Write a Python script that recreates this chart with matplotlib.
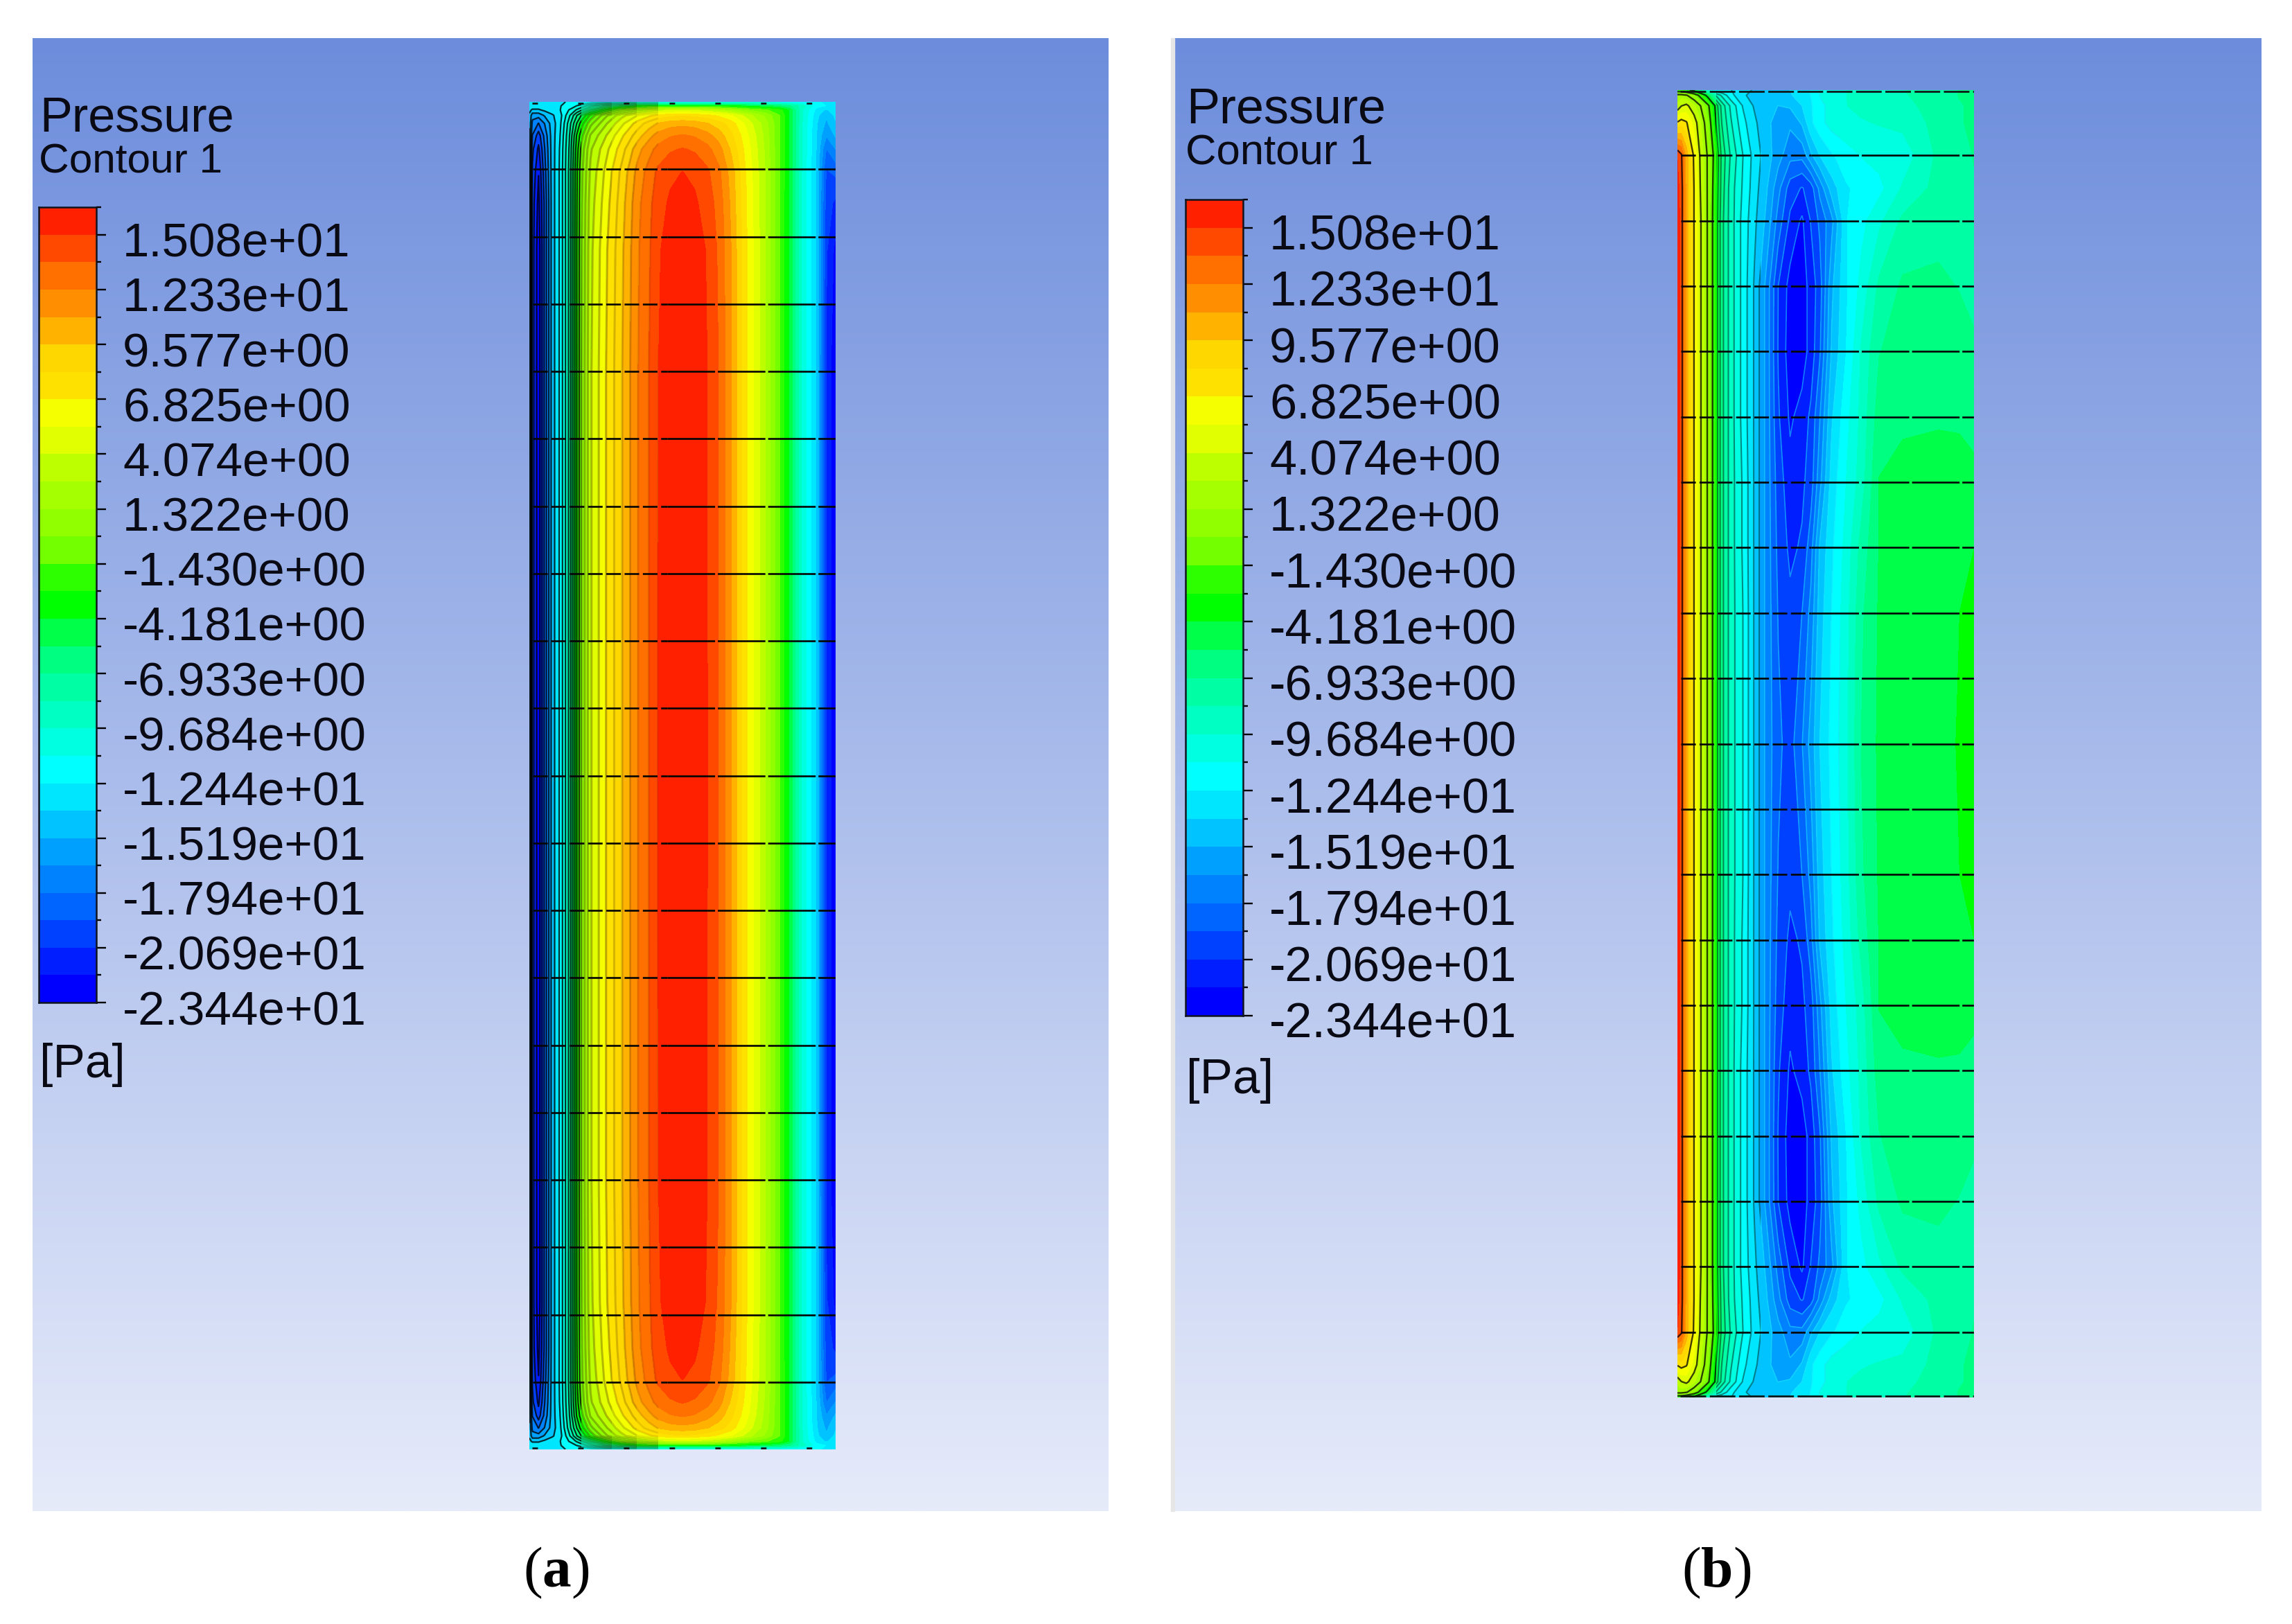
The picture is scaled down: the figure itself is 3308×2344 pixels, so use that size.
"""
Two CFD pressure contour panels (a) and (b) with their rainbow legends.
Field values are read off the picture at a set of stations.
"""
import numpy as np
import matplotlib
matplotlib.use("Agg")
import matplotlib.pyplot as plt
from matplotlib.colors import ListedColormap, BoundaryNorm
from matplotlib.patches import Rectangle
from matplotlib.transforms import ScaledTranslation

plt.rcParams["font.family"] = ["Liberation Sans", "DejaVu Sans"]
plt.rcParams["mathtext.fontset"] = "custom"
plt.rcParams["mathtext.rm"] = "Liberation Serif"
plt.rcParams["mathtext.bf"] = "Liberation Serif:bold"

W, H = 3308, 2344

# legend
levels = [-23.44, -22.06, -20.69, -19.31, -17.94, -16.56, -15.19, -13.81, -12.44, -11.06,
          -9.684, -8.31, -6.933, -5.56, -4.181, -2.81, -1.43, -0.05, 1.322, 2.70,
          4.074, 5.45, 6.825, 8.20, 9.577, 10.95, 12.33, 13.70, 15.08, 16.46]
label_values = [15.08, 12.33, 9.577, 6.825, 4.074, 1.322, -1.43, -4.181, -6.933,
                -9.684, -12.44, -15.19, -17.94, -20.69, -23.44]
tick_labels = ["1.508e+01", "1.233e+01", "9.577e+00", "6.825e+00", "4.074e+00",
               "1.322e+00", "-1.430e+00", "-4.181e+00", "-6.933e+00", "-9.684e+00",
               "-1.244e+01", "-1.519e+01", "-1.794e+01", "-2.069e+01", "-2.344e+01"]
minor_values = [16.46, 13.70, 10.95, 8.20, 5.45, 2.70, -0.05, -2.81, -5.56, -8.31,
                -11.06, -13.81, -16.56, -19.31, -22.06]
band_colors = ["#0000ff", "#001eff", "#0040ff", "#0064ff", "#0082ff", "#00a0ff", "#00c3ff",
               "#00e6ff", "#00ffff", "#00ffe1", "#00ffc3", "#00ffa5", "#00ff80", "#00ff48",
               "#00ff00", "#2dff00", "#73ff00", "#91ff00", "#a5ff00", "#beff00", "#e1ff00",
               "#f5ff00", "#ffe100", "#ffd700", "#ffb200", "#ff8f00", "#ff7000", "#ff4800",
               "#ff2000"]

# mesh lines, fraction of the domain height
mesh_y = [0.05, 0.10, 0.15, 0.20, 0.25, 0.30, 0.35, 0.40, 0.45, 0.50,
          0.55, 0.60, 0.65, 0.70, 0.75, 0.80, 0.85, 0.90, 0.95]

# panel (a), rows from the top edge down to mid height, mirrored below that
a_x = [0, .01, .03, .05, .075, .10, .13, .155, .17, .20, .25, .30, .355, .39, .42,
       .46, .5, .54, .58, .62, .66, .71, .77, .82, .85, .89, .94, .97, 1]
a_y = [0, .003, .006, .01, .016, .025, .035, .052, .075, .11, .2, .5]
a_row0 = [-12.5, -12.5, -12.5, -12.5, -12.5, -12.5, -12.4, -12.3, -12.2, -12.1, -12, -12, -12, -12, -12,
          -12, -12, -12, -12, -12, -12, -12, -12, -12.1, -12.2, -12.3, -12.4, -12.5, -12.5]
a_row1 = [-13, -13, -13, -13, -12.8, -12.5, -12, -11, -10.5, -9, -7, -5.5, -4.2, -3.6, -3.2,
          -3, -3, -3, -3.2, -3.6, -4, -4.5, -5.2, -6, -6.8, -9, -12, -12.5, -12.5]
a_row2 = [-13.5, -14, -14, -13.5, -13, -12.5, -11, -9.5, -8.5, -6.5, -3.5, -0.5, 1.5, 2.5, 3.2,
          3.6, 3.7, 3.6, 3.2, 2.5, 1.5, 0, -1.2, -2.5, -4.4, -9.5, -13, -14, -13]
a_row3 = [-14, -16, -16, -15, -14, -13, -10, -7, -5.5, -2.5, 1, 3.5, 5.5, 6.5, 7.3,
          7.8, 8, 7.8, 7.3, 6.5, 5.5, 3.5, 1, -1.5, -4.4, -9.5, -13.5, -15, -13.5]
a_row4 = [-14, -17, -18, -16.5, -14.5, -12.8, -9, -5.5, -3.5, -0.5, 2.5, 5, 7.5, 8.8, 9.7,
          10.3, 10.5, 10.3, 9.7, 8.8, 7.5, 5, 2, -1.6, -4.4, -9.6, -13.8, -15.5, -14]
a_row5 = [-13.5, -18, -20, -17.5, -14.5, -12.5, -8.5, -4, -2, 1.5, 4, 6.5, 9, 10.5, 11.5,
          12.2, 12.5, 12.2, 11.5, 10.3, 8.5, 5.8, 2.3, -1.6, -4.4, -9.7, -14, -16.5, -15]
a_row6 = [-13, -19, -21, -18, -14.5, -12.3, -8.2, -3.5, -1, 2.5, 5, 7.5, 10.5, 11.8, 12.8,
          13.5, 13.8, 13.5, 12.8, 11.5, 9.3, 6.2, 2.5, -1.6, -4.4, -9.7, -14.1, -18, -16.5]
a_row7 = [-13, -19.5, -22, -18.5, -14.5, -12.2, -8, -3, -0.5, 3, 5.8, 8.5, 11.5, 12.9, 14,
          14.8, 15.1, 14.8, 14, 12.6, 10.3, 6.6, 2.7, -1.6, -4.4, -9.8, -14.2, -19.5, -19]
a_row8 = [-12.5, -20, -22.5, -19, -14.5, -12.2, -8, -2.9, -0.3, 3.4, 6.2, 8.9, 12, 13.3, 14.5,
          15.3, 15.5, 15.3, 14.5, 13.1, 10.6, 6.8, 2.8, -1.7, -4.4, -9.8, -14.3, -20, -21]
a_row9 = [-12.5, -20, -23, -19, -14.5, -12.2, -8, -2.8, -0.2, 3.7, 6.6, 9.2, 12.2, 13.5, 14.9,
          15.7, 15.9, 15.7, 15, 13.4, 10.9, 6.9, 2.8, -1.7, -4.4, -9.8, -14.3, -20.5, -22.5]
a_row10 = [-12.5, -20, -23, -19, -14.5, -12.2, -8, -2.8, -0.1, 3.9, 6.8, 9.4, 12.33, 13.7, 15.05,
           15.9, 16.2, 15.9, 15.1, 13.6, 11, 6.9, 2.8, -1.7, -4.4, -9.8, -14.3, -21, -23.2]
a_row11 = [-12.5, -20, -23, -19, -14.5, -12.2, -8, -2.8, -0.1, 3.9, 6.8, 9.4, 12.33, 13.7, 15.08,
           16, 16.3, 16, 15.15, 13.6, 11, 6.9, 2.8, -1.7, -4.4, -9.8, -14.3, -21, -23.2]

# panel (b), same idea
b_x = [0, .013, .03, .056, .076, .103, .125, .15, .18, .22, .26, .30, .34, .38, .42,
       .45, .48, .52, .57, .62, .68, .76, .88, .95, 1]
b_y = [0, .004, .012, .025, .05, .075, .1, .15, .2, .25, .3, .35, .4, .5]
b_row0 = [-3, -3, -3.5, -5, -7, -10, -12, -12.4, -12.4, -13.2, -14, -14.8, -14.8, -13.8, -12.8,
          -12.4, -11, -10.5, -9.7, -9.2, -9, -8.4, -7.3, -6.9, -6.8]
b_row1 = [2, 2, 1.5, 0, -2, -5, -8, -10, -12, -13.5, -14.5, -15, -15, -14, -13,
          -12.4, -11, -10.5, -9.7, -9.3, -9, -8.5, -7.4, -6.9, -6.8]
b_row2 = [3, 4, 4.5, 3, 1.5, -1, -4, -7.5, -10, -12.5, -14, -15, -15.2, -15, -13.8,
          -12.6, -11.5, -10.5, -9.7, -9.4, -9.2, -8.8, -7.6, -7, -6.8]
b_row3 = [7, 7.5, 7, 5, 3, 0, -3.5, -7, -9.5, -12, -13.5, -15, -15.5, -16.3, -15,
          -12.7, -11.5, -10.5, -10, -9.8, -9.6, -9.3, -7.8, -7, -6.8]
b_row4 = [15, 14, 10.5, 6.5, 4, 1, -2, -6, -8.5, -11, -13, -14.5, -16, -17.5, -17.5,
          -15.5, -13.8, -12.6, -11.7, -11, -10.5, -10.5, -8, -7.2, -6.9]
b_row5 = [15.5, 14.5, 10.5, 6.8, 4.2, 1, -2.3, -6.2, -9, -11.2, -13.2, -15, -17.5, -20, -20.8,
          -20, -17.5, -14.5, -12.6, -12, -11.5, -9.5, -7.8, -7.3, -7]
b_row6 = [16, 14.5, 10.5, 6.8, 4.5, 1, -2.5, -6.5, -9, -11.5, -13.5, -15.5, -18.5, -21, -22.3,
          -20.6, -19, -17, -12.5, -11.5, -10, -8, -7.5, -7.3, -7]
b_row7 = [16, 14.5, 10.5, 6.8, 4.5, 1, -2.5, -6.5, -9, -11.5, -14, -17, -20.7, -22.6, -22.8,
          -21.5, -20, -15.5, -12.6, -10.6, -8, -6.7, -6.6, -7, -7.5]
b_row8 = [16, 14.5, 10.5, 6.8, 4.5, 1, -2.5, -6.5, -9, -11.5, -14, -17, -20.8, -22.8, -22.8,
          -21.5, -19.5, -15, -12.4, -9.5, -7, -6.2, -6, -6.2, -6.6]
b_row9 = [16, 14.5, 10.5, 6.8, 4.5, 1, -2.5, -6.5, -9, -11.5, -14, -17, -20.5, -22.3, -21.5,
          -20.4, -18, -14, -11.5, -9.3, -6.2, -5.8, -5.7, -5.75, -6]
b_row10 = [16, 14.5, 10.5, 6.8, 4.5, 1, -2.5, -6.5, -9, -11.2, -14, -17, -20, -21.5, -21,
           -20, -17, -13.2, -11, -9, -5.5, -5.1, -5, -5, -5.2]
b_row11 = [16, 14.5, 10.5, 6.8, 4.5, 1, -2.5, -6.5, -9, -11.2, -14, -17, -19.7, -21, -20.5,
           -18.5, -15, -12.7, -10.5, -7.8, -5.5, -5, -4.8, -4.5, -4.2]
b_row12 = [16, 14.5, 10.5, 6.8, 4.5, 1, -2.5, -6.5, -9, -11, -14, -17, -19.4, -20.3, -19.3,
           -17.5, -14.5, -12.4, -10.2, -7.2, -5.4, -5, -4.7, -4.2, -3.6]
b_row13 = [16, 14.5, 10.5, 6.8, 4.5, 1, -2.5, -6.5, -9, -11, -14, -17, -19, -19.9, -18,
           -16, -13.8, -12, -10, -6.9, -5.3, -4.9, -4.6, -4.1, -3.4]

a_rows = np.array([a_row0, a_row1, a_row2, a_row3, a_row4, a_row5, a_row6, a_row7, a_row8,
                   a_row9, a_row10, a_row11])
b_rows = np.array([b_row0, b_row1, b_row2, b_row3, b_row4, b_row5, b_row6, b_row7, b_row8,
                   b_row9, b_row10, b_row11, b_row12, b_row13])

# only some of the contours are drawn dark in (b)
b_dark_levels = [-4.181, -1.43, 1.322, 4.074, 6.825, 13.70]


def px_axes(fig, x0, y0, x1, y1):
    return fig.add_axes([x0 / W, 1 - y1 / H, (x1 - x0) / W, (y1 - y0) / H])


def fig_text(fig, x, y, s, size):
    fig.text(x / W, 1 - y / H, s, fontsize=size, color="#0a0a14", va="baseline", ha="left")


def draw_background(fig, box):
    ax = px_axes(fig, *box)
    top = np.array([109, 141, 220]) / 255
    bottom = np.array([230, 235, 250]) / 255
    t = np.linspace(0, 1, 256)[:, None, None]
    ax.imshow(top * (1 - t) + bottom * t, aspect="auto", interpolation="bilinear")
    ax.axis("off")


def draw_legend(fig, box, title_pos, pa_pos, sizes):
    ax = px_axes(fig, *box)
    cmap = ListedColormap(band_colors)
    norm = BoundaryNorm(levels, cmap.N)
    centers = np.array(levels[:-1])[:, None]
    ax.pcolormesh([0, 1], levels, centers, cmap=cmap, norm=norm)
    ax.set_xlim(0, 1)
    ax.set_ylim(levels[0], levels[-1])
    ax.set_xticks([])
    ax.yaxis.tick_right()
    ax.set_yticks(label_values)
    ax.set_yticklabels(tick_labels, ha="left", va="center", fontsize=sizes[0], color="#0a0a14")
    ax.set_yticks(minor_values, minor=True)
    ax.tick_params(axis="y", which="major", length=10.4, width=1.7, pad=17)
    ax.tick_params(axis="y", which="minor", length=5, width=1.7)
    for sp in ax.spines.values():
        sp.set_linewidth(1.8)
        sp.set_color("#10141e")
    # the labels sit a little under their ticks
    offset = ScaledTranslation(0, -14 / 100, fig.dpi_scale_trans)
    for lab in ax.get_yticklabels():
        lab.set_transform(lab.get_transform() + offset)
    fig_text(fig, title_pos[0], title_pos[1], "Pressure", sizes[1])
    fig_text(fig, title_pos[0] - 1, title_pos[2], "Contour 1", sizes[2])
    fig_text(fig, pa_pos[0], pa_pos[1], "[Pa]", sizes[3])


def draw_field(fig, box, xs, ys, rows, line_zones, shade_x, shade_a, edge_style):
    ax = px_axes(fig, *box)
    x = np.array(xs)
    half = np.array(ys)
    y = np.concatenate([half, 1 - half[-2::-1]])
    z = np.vstack([rows, rows[-2::-1]])
    ax.contourf(x, y, z, levels=levels, colors=band_colors)
    # the picture is darker over the left part, fading out to the right
    ramp = np.linspace(0, 1, 400)
    shade = np.zeros((1, ramp.size, 4))
    shade[0, :, 3] = np.interp(ramp, shade_x, shade_a)
    ax.imshow(shade, extent=(0, 1, 1, 0), aspect="auto", interpolation="bilinear")
    # the jagged contour lines only show up on the left part of the domain
    for x0, x1, color, alpha, lw, lev in line_zones:
        cs = ax.contour(x, y, z, levels=lev, colors=color, alpha=alpha, linewidths=lw,
                        linestyles="solid")
        cs.set_clip_path(Rectangle((x0, 0), x1 - x0, 1, transform=ax.transData))
    for yy in mesh_y:
        ax.plot([0.012, 0.45], [yy, yy], color="#050505", lw=1.9, ls=(0, (8, 2)),
                dash_capstyle="butt")
        ax.plot([0.45, 1], [yy, yy], color="#050505", lw=1.9, ls=(0, (26, 1.5)),
                dash_capstyle="butt")
    for yy in [0.0008, 0.9992]:
        ax.plot([0.01, 1], [yy, yy], color="#101010", lw=1.9, ls=edge_style, dash_capstyle="butt")
    ax.set_xlim(0, 1)
    ax.set_ylim(1, 0)
    ax.axis("off")


def main():
    fig = plt.figure(figsize=(W / 100, H / 100), dpi=100, facecolor="white")

    draw_background(fig, (47, 55, 1599, 2181))
    fig.patches.append(Rectangle((1690 / W, 1 - 2181 / H), 5 / W, 2126 / H, color="#e6e6e6",
                                 transform=fig.transFigure, figure=fig))
    draw_background(fig, (1695, 55, 3264, 2181))

    draw_legend(fig, (56, 299, 139, 1447), (57, 190, 250), (57, 1555), (49.8, 50.5, 43.5, 50))
    draw_legend(fig, (1711, 288, 1794, 1466), (1712, 177, 238), (1712, 1578), (50.6, 51.8, 44.4, 51))

    zones_a = [(0, 0.17, "black", 0.8, 1.6, levels), (0.17, 0.27, "#2a1a00", 0.3, 2.2, levels),
               (0.27, 0.35, "#2a1a00", 0.2, 2.2, levels), (0.35, 0.42, "#2a1a00", 0.1, 2.2, levels)]
    zones_b = [(0, 0.13, "black", 0.75, 1.7, b_dark_levels), (0.13, 0.28, "#003030", 0.55, 1.5, levels),
               (0.28, 0.55, "#20e0ff", 0.5, 1.2, levels)]
    draw_field(fig, (764, 147, 1206, 2092), a_x, a_y, a_rows, zones_a,
               [0, 0.17, 0.3, 0.42, 0.46, 1], [0.3, 0.3, 0.22, 0.1, 0, 0], (0, (3, 22)))
    draw_field(fig, (2421, 130, 2849, 2017), b_x, b_y, b_rows, zones_b,
               [0, 0.12, 0.15, 0.33, 0.38, 0.42, 1], [0, 0, 0.25, 0.25, 0.05, 0, 0], (0, (14, 2)))

    for x, s in [(803, r"($\mathbf{a}$)"), (2477, r"($\mathbf{b}$)")]:
        fig.text(x / W, 1 - 2290 / H, s, fontsize=60, ha="center", va="baseline",
                 family="Liberation Serif", color="black")

    fig.savefig("out.png", dpi=100, facecolor="white")
    print("saved out.png")


if __name__ == "__main__":
    main()
